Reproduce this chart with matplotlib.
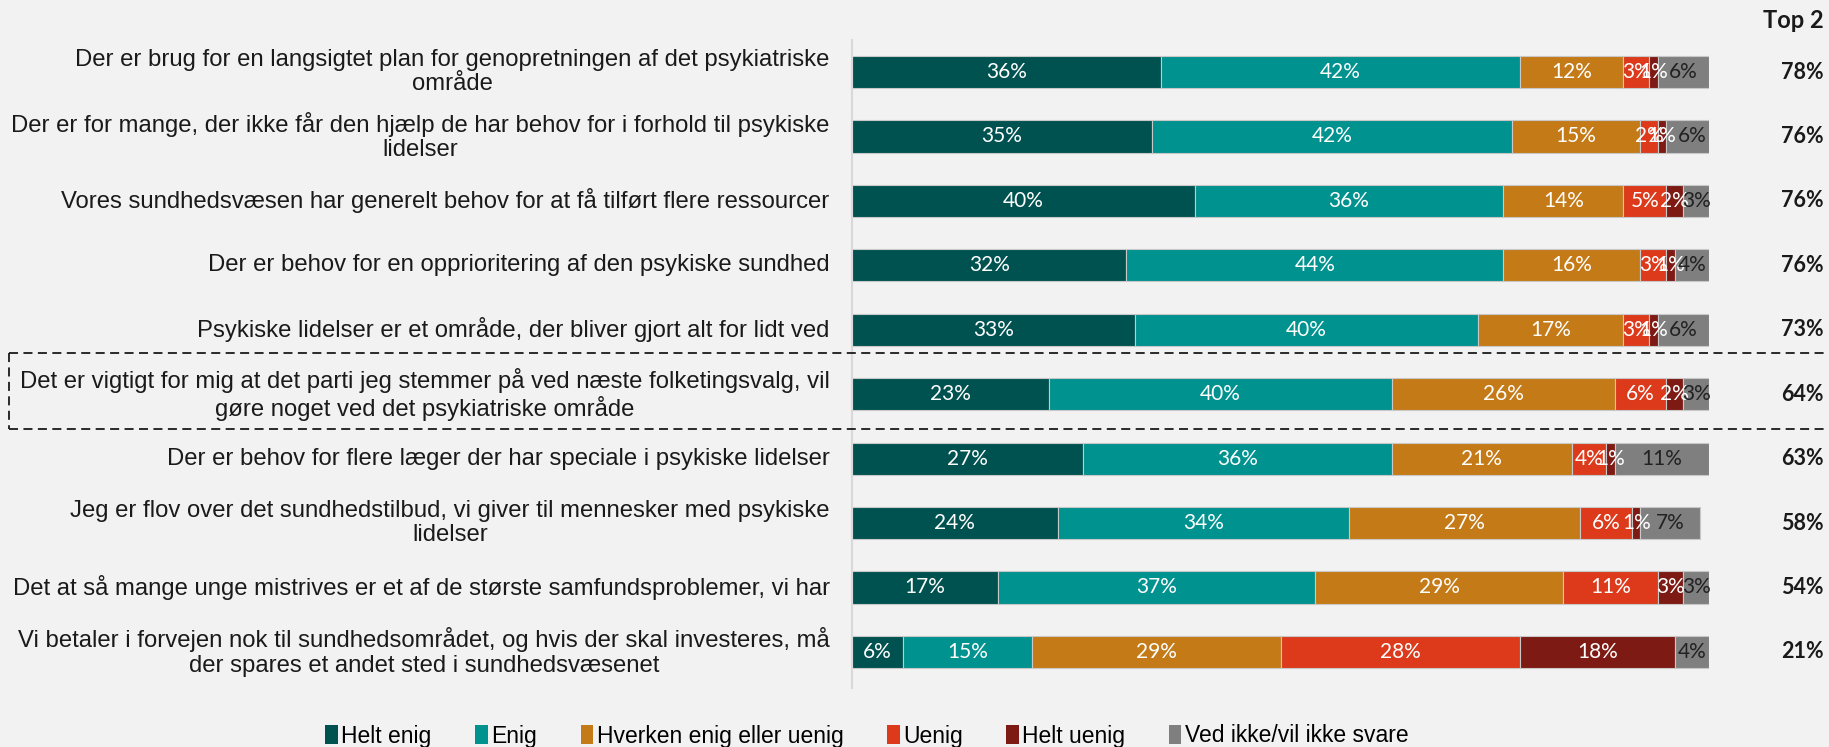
import matplotlib.pyplot as plt
from matplotlib.lines import Line2D
from matplotlib.patches import Patch

# udsagn (rækkefølge oppefra og ned)
statements = [
    "Der er brug for en langsigtet plan for genopretningen af det psykiatriske\nområde",
    "Der er for mange, der ikke får den hjælp de har behov for i forhold til psykiske\nlidelser",
    "Vores sundhedsvæsen har generelt behov for at få tilført flere ressourcer",
    "Der er behov for en opprioritering af den psykiske sundhed",
    "Psykiske lidelser er et område, der bliver gjort alt for lidt ved",
    "Det er vigtigt for mig at det parti jeg stemmer på ved næste folketingsvalg, vil\ngøre noget ved det psykiatriske område",
    "Der er behov for flere læger der har speciale i psykiske lidelser",
    "Jeg er flov over det sundhedstilbud, vi giver til mennesker med psykiske\nlidelser",
    "Det at så mange unge mistrives er et af de største samfundsproblemer, vi har",
    "Vi betaler i forvejen nok til sundhedsområdet, og hvis der skal investeres, må\nder spares et andet sted i sundhedsvæsenet",
]

helt_enig = [36, 35, 40, 32, 33, 23, 27, 24, 17, 6]
enig = [42, 42, 36, 44, 40, 40, 36, 34, 37, 15]
hverken = [12, 15, 14, 16, 17, 26, 21, 27, 29, 29]
uenig = [3, 2, 5, 3, 3, 6, 4, 6, 11, 28]
helt_uenig = [1, 1, 2, 1, 1, 2, 1, 1, 3, 18]
ved_ikke = [6, 6, 3, 4, 6, 3, 11, 7, 3, 4]
top2 = [78, 76, 76, 76, 73, 64, 63, 58, 54, 21]

categories = ["Helt enig", "Enig", "Hverken enig eller uenig", "Uenig", "Helt uenig",
              "Ved ikke/vil ikke svare"]
colors = ["#005250", "#00928E", "#C47A17", "#DC3A1B", "#7D1A13", "#7F7F7F"]
text_colors = ["white", "white", "white", "white", "white", "#222222"]

W, H = 1829, 747
fig = plt.figure(figsize=(W / 100, H / 100), dpi=100)
fig.patch.set_facecolor("#F2F2F2")

# akse placeret i pixels
x0, x1 = 852, 1709
ytop, ybot = 40, 688
ax = fig.add_axes([x0 / W, 1 - ybot / H, (x1 - x0) / W, (ybot - ytop) / H])
ax.set_facecolor("#F2F2F2")
ax.set_xlim(0, 100)
ax.set_ylim(9.56, -0.497)
for s in ["top", "right", "bottom"]:
    ax.spines[s].set_visible(False)
ax.spines["left"].set_color("#D9D9D9")
ax.spines["left"].set_linewidth(1.5)
ax.set_xticks([])
ax.set_yticks([])

series = [helt_enig, enig, hverken, uenig, helt_uenig, ved_ikke]
ypos = list(range(len(statements)))
left = [0] * len(statements)
for vals, col, tcol in zip(series, colors, text_colors):
    ax.barh(ypos, vals, left=left, height=0.5, color=col, edgecolor="#C8C8C8", linewidth=0.8)
    for y, v, l in zip(ypos, vals, left):
        ax.text(l + v / 2, y, f"{v}%", ha="center", va="center", color=tcol,
                fontsize=15, family="Lato")
    left = [l + v for l, v in zip(left, vals)]

# udsagnstekster
for y, s in zip(ypos, statements):
    ax.text(-2.6, y, s, ha="right", va="center", multialignment="center", linespacing=1.15,
            fontsize=17.2, family="Liberation Sans", color="#1a1a1a", clip_on=False)

# Top 2
ax.text(113.4, -0.8, "Top 2", ha="right", va="center", fontsize=17, fontweight="bold",
        family="Lato", color="#1a1a1a", clip_on=False)
for y, v in zip(ypos, top2):
    ax.text(113.4, y, f"{v}%", ha="right", va="center", fontsize=15.5, fontweight="bold",
            family="Lato", color="#1a1a1a", clip_on=False)

# stiplet ramme om fremhævet udsagn
ya, yb = 1 - 353 / H, 1 - 429 / H
xl = 9 / W
for yy in (ya, yb):
    fig.add_artist(Line2D([xl, 1], [yy, yy], transform=fig.transFigure, color="#1a1a1a",
                          linestyle=(0, (5, 3)), linewidth=1.3))
fig.add_artist(Line2D([xl, xl], [ya, yb], transform=fig.transFigure, color="#1a1a1a",
                      linestyle=(0, (5, 3)), linewidth=1.3))

handles = [Patch(facecolor=c, label=n) for c, n in zip(colors, categories)]
leg = fig.legend(handles=handles, loc="center", bbox_to_anchor=(0.474, 1 - 736 / H), ncol=6,
                 frameon=False, handlelength=0.55, handleheight=0.85, handletextpad=0.15,
                 columnspacing=1.9, prop={"family": "Liberation Sans", "size": 16.5})

fig.savefig("out.png", dpi=100, facecolor=fig.get_facecolor())
